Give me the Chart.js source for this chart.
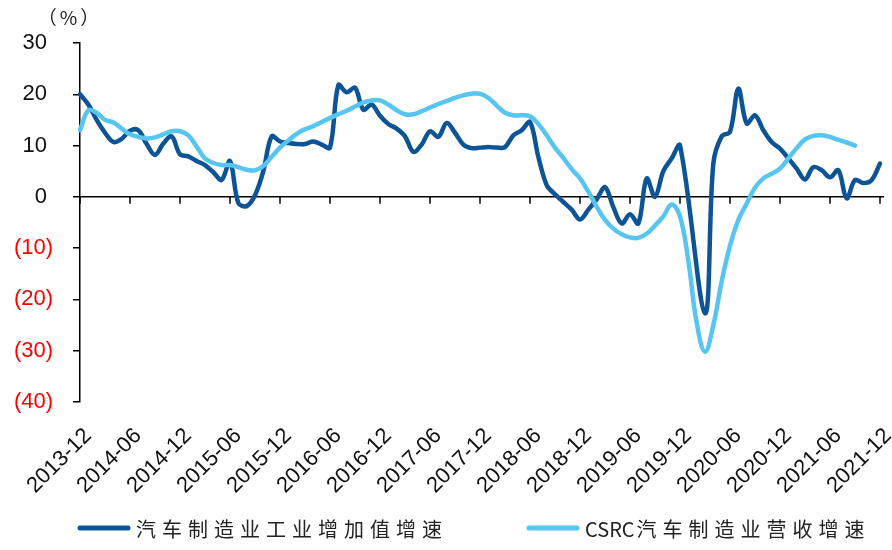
<!DOCTYPE html>
<html>
<head>
<meta charset="utf-8">
<script src="https://cdn.jsdelivr.net/npm/chart.js@4.4.1/dist/chart.umd.min.js"></script>
<style>
  html, body { margin: 0; padding: 0; background: #fff; }
</style>
</head>
<body>
<canvas id="myChart" width="892" height="550"></canvas>
<script>
const months = [
  '2013-12',
  '2014-01', '2014-02', '2014-03', '2014-04', '2014-05', '2014-06', '2014-07', '2014-08', '2014-09', '2014-10', '2014-11', '2014-12',
  '2015-01', '2015-02', '2015-03', '2015-04', '2015-05', '2015-06', '2015-07', '2015-08', '2015-09', '2015-10', '2015-11', '2015-12',
  '2016-01', '2016-02', '2016-03', '2016-04', '2016-05', '2016-06', '2016-07', '2016-08', '2016-09', '2016-10', '2016-11', '2016-12',
  '2017-01', '2017-02', '2017-03', '2017-04', '2017-05', '2017-06', '2017-07', '2017-08', '2017-09', '2017-10', '2017-11', '2017-12',
  '2018-01', '2018-02', '2018-03', '2018-04', '2018-05', '2018-06', '2018-07', '2018-08', '2018-09', '2018-10', '2018-11', '2018-12',
  '2019-01', '2019-02', '2019-03', '2019-04', '2019-05', '2019-06', '2019-07', '2019-08', '2019-09', '2019-10', '2019-11', '2019-12',
  '2020-01', '2020-02', '2020-03', '2020-04', '2020-05', '2020-06', '2020-07', '2020-08', '2020-09', '2020-10', '2020-11', '2020-12',
  '2021-01', '2021-02', '2021-03', '2021-04', '2021-05', '2021-06', '2021-07', '2021-08', '2021-09', '2021-10', '2021-11', '2021-12'
]

// 汽车制造业工业增加值增速 (%)
const valueAdded = [
  20.0,
  18.0, 15.0, 12.5, 10.7, 11.3, 12.9, 13.0, 10.3, 8.2, 10.4, 11.8, 8.3,
  7.9, 7.0, 6.2, 4.8, 3.3, 7.0, -1.2, -1.8, 0.3, 5.0, 11.8, 10.8,
  10.5, 10.3, 10.3, 10.8, 10.2, 9.6, 21.8, 20.4, 21.3, 17.0, 18.0, 15.8,
  14.2, 13.3, 11.8, 8.8, 10.2, 12.8, 11.7, 14.4, 12.5, 10.2, 9.5, 9.6,
  9.7, 9.6, 9.7, 12.0, 13.0, 14.6, 7.8, 2.3, 0.5, -1.0, -2.5, -4.4,
  -2.5, -0.5, 1.9, -2.0, -5.2, -3.4, -5.2, 3.6, 0.0, 5.0, 7.5, 10.0,
  null, null, -22.7, 6.5, 11.8, 12.7, 21.1, 14.3, 15.9, 13.0, 10.7, 9.4,
  7.5, 5.5, 3.4, 5.8, 5.2, 3.8, 5.2, -0.3, 3.3, 2.7, 3.3, 6.5
]

// CSRC汽车制造业营收增速 (%)
const revenue = [
  13.0,
  16.9, 16.4, 15.0, 14.5, 13.3, 12.2, 11.7, 11.4, 11.6, 12.2, 12.8, 12.8,
  12.0, 9.8, 7.5, 6.6, 6.2, 6.2, 5.8, 5.3, 5.2, 6.0, 7.8, 9.6,
  11.0, 12.3, 13.2, 13.8, 14.6, 15.4, 16.1, 16.8, 17.6, 18.4, 18.8, 18.8,
  18.0, 16.9, 16.1, 16.1, 16.7, 17.4, 18.1, 18.7, 19.3, 19.8, 20.1, 20.1,
  19.3, 17.8, 16.4, 15.9, 15.9, 15.7, 14.2, 12.0, 9.6, 7.6, 5.4, 3.6,
  1.0, -1.9, -4.5, -6.2, -7.3, -7.9, -8.0, -7.2, -5.6, -3.8, -1.5, -3.8,
  -12.5, -24.5, -30.2, -25.0, -16.5, -9.5, -4.5, -1.3, 1.8, 3.6, 4.5, 5.5,
  7.5, 9.5, 11.2, 11.9, 12.0, 11.7, 11.1, 10.6, 10.0, null, null, null
]

const seriesNames = ['汽车制造业工业增加值增速', 'CSRC汽车制造业营收增速']
const yMin = -40
const yMax = 30
const yStep = 10
const labelEvery = 6

const zeroAxis = {
  id: 'zeroAxis',
  beforeDatasetsDraw(chart) {
    const {ctx, chartArea, scales} = chart
    const y0 = scales.y.getPixelForValue(0)
    ctx.save()
    ctx.strokeStyle = '#000'
    ctx.lineWidth = 1.5
    ctx.beginPath()
    ctx.moveTo(chartArea.left, y0)
    ctx.lineTo(chartArea.right + 4, y0)
    for (let i = 0; i < months.length; i += labelEvery) {
      const px = scales.x.getPixelForValue(i)
      ctx.moveTo(px, y0)
      ctx.lineTo(px, y0 + 7)
    }
    ctx.stroke()
    ctx.restore()
  },
  afterDraw(chart) {
    const ctx = chart.ctx
    ctx.save()
    ctx.fillStyle = '#222'
    ctx.font = "19px 'Noto Sans CJK SC'"
    ctx.textAlign = 'center'
    ctx.textBaseline = 'middle'
    if ('letterSpacing' in ctx) ctx.letterSpacing = '3px'
    ctx.fillText('（%）', 70, 18)
    ctx.restore()
  }
}

// legend drawn by hand so the wide letter spacing of the original can be kept
const wideLegend = {
  id: 'wideLegend',
  afterDraw(chart) {
    const ctx = chart.ctx
    const items = [
      { ds: chart.data.datasets[1], x: 80 },
      { ds: chart.data.datasets[0], x: 529 }
    ]
    const y = 528
    ctx.save()
    ctx.font = "20px 'Noto Sans CJK SC'"
    ctx.textBaseline = 'middle'
    ctx.textAlign = 'left'
    items.forEach(it => {
      ctx.strokeStyle = it.ds.borderColor
      ctx.lineWidth = 5
      ctx.lineCap = 'round'
      ctx.beginPath()
      ctx.moveTo(it.x, y)
      ctx.lineTo(it.x + 48, y)
      ctx.stroke()
      ctx.fillStyle = '#222'
      const latin = (it.ds.label.match(/^[A-Za-z]+/) || [''])[0]
      let tx = it.x + 56
      if (latin) {
        if ('letterSpacing' in ctx) ctx.letterSpacing = '0px'
        ctx.fillText(latin, tx, y + 1)
        tx += ctx.measureText(latin).width + 2
      }
      if ('letterSpacing' in ctx) ctx.letterSpacing = '6px'
      ctx.fillText(it.ds.label.slice(latin.length), tx, y + 1)
    })
    ctx.restore()
  }
}

const ctx1 = document.getElementById('myChart')

const myChart1 = new Chart(ctx1, {
  type: 'line',
  data: {
    labels: months,
    datasets: [
      {
        label: seriesNames[1],
        data: revenue,
        borderColor: '#58C4F0',
        backgroundColor: '#58C4F0',
        borderWidth: 4.5,
        pointRadius: 0,
        tension: 0.4,
        borderCapStyle: 'round',
        borderJoinStyle: 'round'
      },
      {
        label: seriesNames[0],
        data: valueAdded,
        borderColor: '#0C5496',
        backgroundColor: '#0C5496',
        borderWidth: 4.5,
        pointRadius: 0,
        tension: 0.35,
        spanGaps: true,
        borderCapStyle: 'round',
        borderJoinStyle: 'round'
      }
    ]
  },
  options: {
    responsive: false,
    animation: false,
    layout: { padding: { top: 43, right: 12, left: 0, bottom: 48 } },
    plugins: {
      tooltip: { enabled: false },
      legend: { display: false }
    },
    scales: {
      x: {
        grid: { display: false, drawTicks: false },
        border: { display: false },
        afterBuildTicks: s => { s.ticks = s.ticks.filter(t => t.value % labelEvery === 0) },
        ticks: {
          autoSkip: false,
          maxRotation: 45,
          minRotation: 45,
          padding: 21,
          labelOffset: 8,
          color: '#111',
          font: { family: "'Liberation Sans', Arial, sans-serif", size: 22 }
        },
        afterFit: s => {
          s.height = 100
          s.paddingLeft = 0
          s.paddingRight = 0
        }
      },
      y: {
        min: yMin,
        max: yMax,
        grid: { drawOnChartArea: false, drawTicks: true, tickLength: 7, color: '#000', lineWidth: 1.5 },
        border: { display: true, color: '#000', width: 1.5 },
        ticks: {
          stepSize: yStep,
          padding: 20,
          font: { family: "'Liberation Sans', Arial, sans-serif", size: 22 },
          color: c => (c.tick.value < 0 ? '#FF0000' : '#111'),
          callback: v => (v < 0 ? '(' + (-v) + ')' : v + ' ')
        },
        afterFit: s => { s.width = 80 }
      }
    }
  },
  plugins: [zeroAxis, wideLegend]
})
</script>
</body>
</html>
